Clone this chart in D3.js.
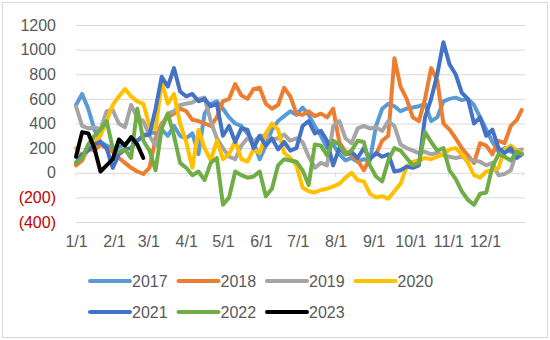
<!DOCTYPE html>
<html>
<head>
<meta charset="utf-8">
<script src="https://cdn.jsdelivr.net/npm/d3@7"></script>
<style>
  body { margin: 0; background: #fff; }
  text { font-family: 'Liberation Sans', Arial, sans-serif; }
</style>
</head>
<body>
<svg id="chart"></svg>
<script>
// day of year for each sample (about every 5 days)
const days = [0, 5, 10, 15, 20, 25, 30, 35, 40, 45, 50, 55, 60, 65, 70, 75, 80, 85, 90, 95,
    100, 105, 110, 115, 120, 125, 130, 135, 140, 145, 150, 155, 160, 165, 170, 175, 180, 185, 190, 195,
    200, 205, 210, 215, 220, 225, 230, 235, 240, 245, 250, 255, 260, 265, 270, 275, 280, 285, 290, 295,
    300, 305, 310, 315, 320, 325, 330, 335, 340, 345, 350, 355, 360, 364];

const monthStarts = [0, 31, 59, 90, 120, 151, 181, 212, 243, 273, 304, 334];
const tickLabels = ['1/1', '2/1', '3/1', '4/1', '5/1', '6/1', '7/1', '8/1', '9/1', '10/1', '11/1', '12/1'];
const yTicks = [-400, -200, 0, 200, 400, 600, 800, 1000, 1200];

const seriesNames = ['2017', '2018', '2019', '2020', '2021', '2022', '2023'];
const seriesColors = ['#5B9BD5', '#ED7D31', '#A5A5A5', '#FFC000', '#4472C4', '#70AD47', '#000000'];

const v2017 = [550, 640, 520, 350, 250, 220, 200, 210, 230, 280, 260, 300, 330, 320, 350, 300, 380, 300, 280, 320,
    150, 480, 560, 580, 520, 450, 400, 380, 320, 250, 110, 220, 350, 420, 460, 500, 470, 530, 470, 380,
    300, 200, 230, 150, 100, 120, 90, 110, 100, 380, 520, 560, 540, 500, 520, 530, 540, 560, 420, 450,
    580, 600, 610, 590, 600, 550, 450, 350, 250, 170, 200, 170, 180, 160];
const v2018 = [60, 100, 200, 180, 230, 200, 170, 120, 80, 40, 10, -10, 40, 280, 400, 450, 480, 520, 500, 430,
    420, 400, 380, 450, 580, 600, 720, 630, 600, 680, 690, 560, 520, 550, 690, 620, 480, 470, 500, 460,
    480, 450, 520, 250, 170, 140, 100, 20, 120, 150, 260, 300, 930, 700, 600, 450, 420, 600, 850, 750,
    400, 350, 280, 200, 140, 80, 240, 220, 150, 260, 240, 380, 430, 510];
const v2019 = [540, 380, 360, 370, 350, 500, 510, 400, 370, 550, 450, 420, 300, 220, 380, 480, 500, 550, 560, 570,
    600, 610, 420, 280, 200, 130, 110, 220, 280, 250, 300, 300, 270, 280, 310, 260, 280, 250, 130, 40,
    80, 60, 380, 420, 280, 240, 360, 380, 360, 370, 340, 420, 380, 230, 200, 180, 160, 170, 150, 160,
    140, 130, 120, 130, 110, 100, 90, 60, 80, -20, -10, 20, 180, 190];
const v2020 = [200, 120, 200, 250, 300, 420, 550, 620, 680, 620, 580, 560, 380, 350, 740, 560, 640, 400, 250, 40,
    350, 200, 100, 260, 110, 150, 260, 110, 90, 190, 160, 320, 400, 350, 160, 120, 60, -120, -150, -160,
    -140, -130, -110, -90, -40, 0, -60, -70, -170, -200, -190, -210, -150, -90, 50, 90, 100, 120, 110, 130,
    150, 190, 200, 150, 80, -20, -40, 10, 20, 40, 190, 220, 180, 160];
const v2021 = [80, 150, 180, 230, 250, 200, 40, 150, 190, 200, 260, 300, 310, 520, 780, 700, 850, 660, 620, 640,
    580, 600, 540, 560, 300, 380, 250, 360, 350, 200, 300, 220, 280, 190, 250, 180, 200, 380, 420, 320,
    340, 260, 60, 200, 150, 170, 120, 200, 110, 160, 130, 150, 10, 20, 50, 40, 60, 450, 600, 800,
    1060, 880, 800, 650, 600, 400, 450, 300, 350, 200, 160, 200, 120, 150];
const v2022 = [80, 120, 230, 300, 350, 420, 200, 170, 190, 120, 520, 260, 180, 20, 360, 480, 300, 80, 40, -20,
    10, -60, 80, 120, -260, -200, 10, -20, -40, -30, 10, -190, -130, 60, 110, 100, 90, 20, -100, 230,
    220, 140, 260, 230, 150, 180, 260, 250, 60, -30, -70, 100, 200, 180, 120, 60, 80, 330, 250, 180,
    200, 20, -50, -150, -220, -260, -170, -160, 50, 150, 130, 100, 170, 150];
const v2023 = [130, 330, 320, 200, 10, 60, 110, 270, 220, 290, 230, 120];

const seriesValues = [v2017, v2018, v2019, v2020, v2021, v2022, v2023];

// layout
const width = 550;
const height = 340;
const plot = {left: 76, right: 525, top: 25, bottom: 222};

const svg = d3.select('#chart')
    .attr('width', width)
    .attr('height', height);

// chart border
svg.append('rect')
    .attr('x', 2.5).attr('y', 2.5)
    .attr('width', width - 5).attr('height', height - 5)
    .attr('fill', '#fff')
    .attr('stroke', '#D9D9D9');

const x = d3.scaleLinear()
    .domain([0, 365])
    .range([plot.left, 523]);

const y = d3.scaleLinear()
    .domain([-400, 1200])
    .range([plot.bottom, plot.top]);

// Y axis + gridlines
const yAxis = svg.append('g')
    .attr('transform', 'translate(' + plot.left + ',0)')
    .call(d3.axisLeft(y)
        .tickValues(yTicks)
        .tickSize(-(plot.right - plot.left))
        .tickPadding(20)
        .tickFormat(d => d < 0 ? '(' + Math.abs(d) + ')' : d));
yAxis.select('.domain').remove();
yAxis.selectAll('line').attr('stroke', '#D9D9D9');
yAxis.selectAll('text')
    .attr('font-size', 16)
    .attr('fill', d => d < 0 ? '#C00000' : '#595959');

// X axis labels
const xAxis = svg.append('g')
    .attr('transform', 'translate(0,' + plot.bottom + ')')
    .call(d3.axisBottom(x)
        .tickValues(monthStarts)
        .tickSize(0)
        .tickPadding(14)
        .tickFormat((d, i) => tickLabels[i]));
xAxis.select('.domain').remove();
xAxis.selectAll('text')
    .attr('font-size', 16)
    .attr('fill', '#595959');

// small tick marks on the zero line
svg.append('g')
    .selectAll('line')
    .data(monthStarts.concat([365]))
    .enter()
    .append('line')
    .attr('x1', d => x(d)).attr('x2', d => x(d))
    .attr('y1', y(0)).attr('y2', y(0) + 4)
    .attr('stroke', '#D9D9D9');

// lines
const line = d3.line()
    .x((d, i) => x(days[i]))
    .y(d => y(d));

svg.append('g')
    .selectAll('path')
    .data(seriesValues)
    .enter()
    .append('path')
    .attr('d', d => line(d))
    .attr('fill', 'none')
    .attr('stroke', (d, i) => seriesColors[i])
    .attr('stroke-width', 4)
    .attr('stroke-linejoin', 'round')
    .attr('stroke-linecap', 'round');

// legend
const legend = svg.append('g')
    .selectAll('g')
    .data(seriesNames)
    .enter()
    .append('g')
    .attr('transform', (d, i) => 'translate(' + (90 + (i % 4) * 88.5) + ',' + (281 + Math.floor(i / 4) * 31) + ')');

legend.append('line')
    .attr('x1', 0).attr('x2', 40)
    .attr('stroke', (d, i) => seriesColors[i])
    .attr('stroke-width', 4)
    .attr('stroke-linecap', 'round');

legend.append('text')
    .attr('x', 42)
    .attr('dy', '0.35em')
    .attr('font-size', 16)
    .attr('fill', '#595959')
    .text(d => d);
</script>
</body>
</html>
